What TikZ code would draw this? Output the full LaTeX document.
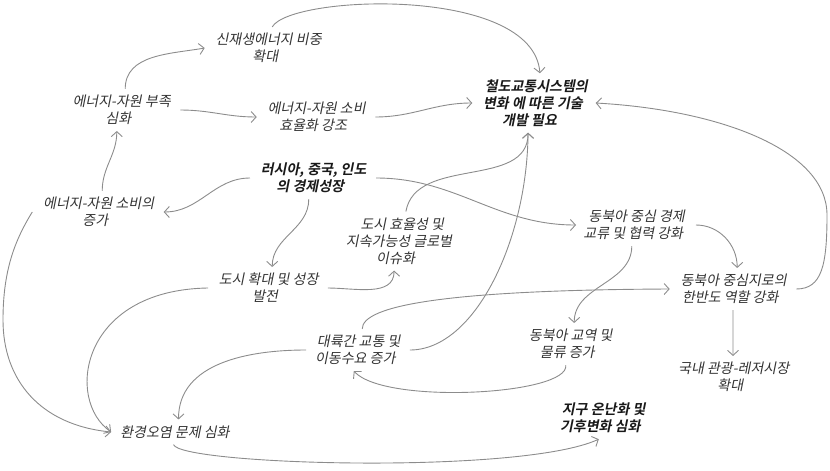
\documentclass[tikz,border=0pt]{standalone}
\usepackage{fontspec}
\newfontfamily\krfont{Noto Sans CJK KR}
\newfontfamily\krbold{Noto Sans CJK KR Bold}
\usetikzlibrary{arrows.meta}
\definecolor{linkgray}{HTML}{8C8C8C}
\definecolor{textgray}{HTML}{333333}

\begin{document}
\begin{tikzpicture}[
    x=1pt, y=-1pt,
    idea/.style={
        align=center,
        inner xsep=10pt,
        inner ysep=6pt,
        xslant=0.2,
        text=textgray,
        font=\krfont\fontsize{14}{17}\selectfont
    },
    mainidea/.style={
        idea,
        text=black!90,
        font=\krbold\fontsize{14}{17}\selectfont
    },
    link/.style={
        draw=linkgray,
        line width=0.9pt,
        -{Straight Barb[length=5pt,width=11pt]}
    }
]
\useasboundingbox (0,0) rectangle (830,471);

\node[idea] (renew) at (268,48) {신재생에너지 비중\\확대};
\node[idea] (short) at (121,110) {에너지-자원 부족\\심화};
\node[idea] (effic) at (316,117) {에너지-자원 소비\\효율화 강조};
\node[mainidea] (rail) at (534,103) {철도교통시스템의\\변화 에 따른 기술\\개발 필요};
\node[mainidea] (growth) at (313,178) {러시아, 중국, 인도\\의 경제성장};
\node[idea] (consume) at (98,212) {에너지-자원 소비의\\증가};
\node[idea] (urbiss) at (400,241) {도시 효율성 및\\지속가능성 글로벌\\이슈화};
\node[idea] (neaeco) at (636,225) {동북아 중심 경제\\교류 및 협력 강화};
\node[idea] (urban) at (268,288) {도시 확대 및 성장\\발전};
\node[idea] (korea) at (733,289) {동북아 중심지로의\\한반도 역할 강화};
\node[idea] (demand) at (358,350) {대륙간 교통 및\\이동수요 증가};
\node[idea] (trade) at (570,344) {동북아 교역 및\\물류 증가};
\node[idea] (tour) at (733,377) {국내 관광-레저시장\\확대};
\node[idea] (pollut) at (176,432) {환경오염 문제 심화};
\node[mainidea] (climate) at (603,418) {지구 온난화 및\\기후변화 심화};

% energy side
\draw[link] (consume.north) to[out=90,in=-90] (short.south);
\draw[link] (short.north) to[out=90,in=190] (renew.west);
\draw[link] (short.east) to[out=0,in=180] (effic.west);
\draw[link] (renew.north) .. controls (290,-5) and (533,-15) .. (rail.north);
\draw[link] (effic.east) to[out=0,in=180] (rail.west);

% growth
\draw[link] (growth.west) to[out=180,in=0] (consume.east);
\draw[link] (growth.south) to[out=-90,in=90] (urban.north);
\draw[link] (growth.east) to[out=0,in=180] (neaeco.west);
\draw[link] (urban.east) to[out=0,in=-90] (urbiss.south);
\draw[link] (urbiss.north) to[out=80,in=-90] (rail.south);

% pollution
\draw[link] (urban.west) .. controls (80,290) and (65,400) .. (pollut.west);
\draw[link] (consume.west) .. controls (15,240) and (3,270) .. (3,320)
    .. controls (3,380) and (40,425) .. (pollut.west);
\draw[link] (demand.west) to[out=180,in=90] (pollut.north);
\draw[link] (pollut.south) .. controls (180,465) and (520,475) .. (climate.south);

% transport
\draw[link] (demand.east) .. controls (475,350) and (527,240) .. (rail.south);
\draw[link] (demand.north) .. controls (362,305) and (450,290) .. (korea.west);
\draw[link] (trade.south) .. controls (570,395) and (385,405) .. (demand.south);
\draw[link] (neaeco.south) to[out=-90,in=90] (trade.north);
\draw[link] (neaeco.east) to[out=0,in=90] (korea.north);
\draw[link] (korea) -- (tour);
\draw[link] (korea.east) .. controls (822,289) and (827,265) .. (827,215)
    .. controls (827,150) and (720,110) .. (rail.east);

\end{tikzpicture}
\end{document}
